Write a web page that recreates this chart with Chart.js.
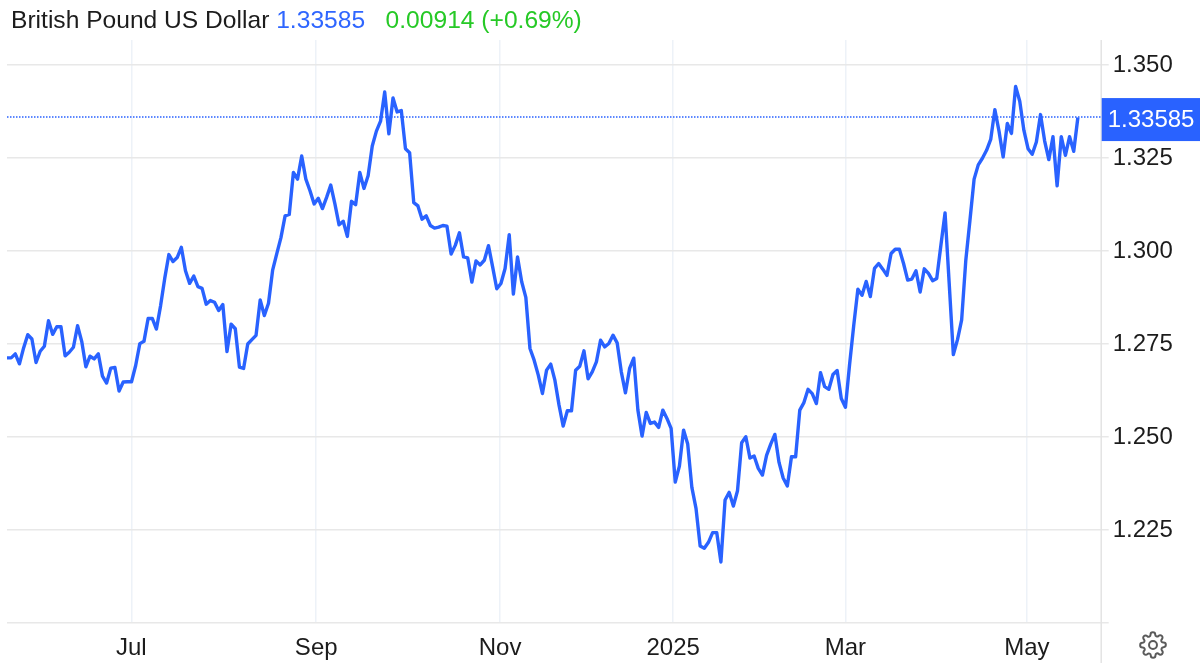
<!DOCTYPE html>
<html><head><meta charset="utf-8">
<style>
html,body{margin:0;padding:0;background:#fff;width:1200px;height:663px;overflow:hidden}
#wrap{position:relative;width:1200px;height:663px}
canvas{position:absolute;left:0;top:0}
#hdr{position:absolute;left:11px;top:6px;font:24.6px "Liberation Sans",Arial,sans-serif;color:#1c1c1c;white-space:pre}
#hdr .p{color:#2f66ff}#hdr .c{color:#26c926}
#gear{position:absolute;left:1139px;top:631px}
</style>
<script src="https://cdn.jsdelivr.net/npm/chart.js@4"></script>
</head><body><div id="wrap">
<canvas id="c" width="1200" height="663"></canvas>
<div id="hdr">British Pound US Dollar <span class="p">1.33585</span>   <span class="c">0.00914 (+0.69%)</span></div>
<svg id="gear" width="28" height="28" viewBox="0 0 24 24" fill="none" stroke="#5a5a5a" stroke-width="1.7" stroke-linejoin="round"><circle cx="12" cy="12" r="3.4"/><path d="M19.4 15a1.65 1.65 0 0 0 .33 1.82l.06.06a2 2 0 1 1-2.83 2.83l-.06-.06a1.65 1.65 0 0 0-2.8 1.17V21a2 2 0 1 1-4 0v-.09a1.65 1.65 0 0 0-2.8-1.17l-.06.06a2 2 0 1 1-2.83-2.83l.06-.06a1.65 1.65 0 0 0-1.17-2.8H3a2 2 0 1 1 0-4h.09a1.65 1.65 0 0 0 1.17-2.8l-.06-.06a2 2 0 1 1 2.83-2.83l.06.06a1.65 1.65 0 0 0 2.8-1.17V3a2 2 0 1 1 4 0v.09a1.65 1.65 0 0 0 2.8 1.17l.06-.06a2 2 0 1 1 2.83 2.83l-.06.06a1.65 1.65 0 0 0 1.17 2.8H21a2 2 0 1 1 0 4h-.09a1.65 1.65 0 0 0-1.51 1z"/></svg>
</div>
<script>
const prices = [
1.27126,1.27126,1.27233,1.26966,1.27393,1.27749,1.27634,1.27002,1.27304,1.27438,
1.28123,1.27758,1.27963,1.27963,1.2718,1.27278,1.27411,1.2799,1.27571,1.26886,
1.27171,1.27099,1.27233,1.26637,1.2645,1.2685,1.26868,1.26236,1.26476,1.26485,
1.26485,1.26921,1.27509,1.27571,1.28185,1.28185,1.27901,1.28524,1.29262,1.29903,
1.29716,1.29823,1.30099,1.29467,1.29129,1.29325,1.2904,1.28995,1.28568,1.28666,
1.28621,1.28399,1.28559,1.27295,1.28034,1.27909,1.26877,1.26841,1.275,1.27616,
1.27731,1.28684,1.28265,1.28595,1.29485,1.2993,1.30357,1.30944,1.3098,
1.32108,1.3193,1.32553,1.3193,1.31619,1.31263,1.31414,1.31138,1.31441,1.3177,
1.31263,1.30702,1.308,1.30391,1.31334,1.31245,1.32108,1.31681,1.32019,1.3282,
1.33221,1.33488,1.34271,1.3315,1.34111,1.33737,1.33773,1.32749,1.32642,1.31299,
1.3121,1.30854,1.30943,1.30684,1.30613,1.3064,1.30684,1.30667,1.29919,1.3015,
1.30489,1.29839,1.29812,1.29163,1.29732,1.29625,1.2975,1.30142,1.29572,1.28984,
1.29127,1.29527,1.30435,1.28842,1.29839,1.29171,1.28753,
1.27378,1.27064,1.26662,1.26169,1.26796,1.26957,1.26527,1.25856,1.25292,1.25704,
1.25704,1.26796,1.26903,1.27315,1.26563,1.26751,1.2702,1.27601,1.27422,1.27512,
1.27736,1.2753,1.26751,1.26187,1.26841,1.27118,1.25722,1.25024,1.25659,1.25364,
1.254,1.25257,1.25722,1.25498,1.2523,1.23789,1.24218,1.25185,1.24809,1.23646,
1.23082,1.2207,1.22008,1.22169,1.22428,1.22428,1.21641,1.23305,1.23511,1.23144,
1.23556,1.24845,1.25006,1.24433,1.24487,1.24156,1.23977,1.24505,1.24809,1.25069,
1.24317,1.23896,1.23681,1.24469,1.24469,1.25722,
1.25925,1.26281,1.26165,1.25898,1.26726,1.26352,1.26281,1.26681,1.26788,1.26032,
1.258,1.26948,1.27998,1.28969,1.28808,1.29182,1.28773,1.2953,1.29663,1.29511,
1.29342,1.2993,1.30045,1.30045,1.29663,1.29218,1.29244,1.29467,1.28897,1.2952,
1.29396,1.292,1.29262,1.30152,1.31024,1.29129,1.27215,1.27616,1.2815,1.2975,1.30826,
1.3193,1.32313,1.32491,1.32705,1.32998,1.33799,1.33221,1.32527,1.33426,1.33159,
1.34422,1.34022,1.33239,1.32749,1.32598,1.32927,1.33666,1.32954,1.32455,1.3307,
1.31752,1.3307,1.32571,1.3307,1.32678,1.33585];
const monthLabels = ['Jul','Sep','Nov','2025','Mar','May'];
const monthIndex = [29.95,74.5,118.8,160.5,202,245.7];
const yTicks = [1.2,1.225,1.25,1.275,1.3,1.325,1.35];
const lastPrice = 1.33585;
const xEnd = 263.5;
const yMin = 1.2, yMax = 1.3567;
const BLUE = '#2962ff';
const overlay = {
  id:'overlay',
  afterDatasetsDraw(ch){
    const a=ch.chartArea, y=ch.scales.y.getPixelForValue(lastPrice), g=ch.ctx;
    g.save();
    g.strokeStyle='#e3e3e3'; g.lineWidth=1.5;
    g.beginPath(); g.moveTo(a.right+0.5,a.top); g.lineTo(a.right+0.5,663); g.stroke();
    g.strokeStyle=BLUE; g.lineWidth=1.4; g.setLineDash([1.5,1.5]);
    g.beginPath(); g.moveTo(a.left,y-0.5); g.lineTo(a.right,y-0.5); g.stroke();
    g.setLineDash([]);
    g.fillStyle=BLUE; g.fillRect(a.right+1,y-19.5,99,43);
    g.fillStyle='#fff'; g.font='24px "Liberation Sans",Arial,sans-serif';
    g.textAlign='left'; g.textBaseline='middle';
    g.fillText(lastPrice.toFixed(5),a.right+7,y+3);
    g.restore();
  }
};
new Chart(document.getElementById('c'),{
  type:'line',
  data:{datasets:[{label:'British Pound US Dollar',data:prices.map((v,i)=>({x:i,y:v})),
    borderColor:BLUE,borderWidth:3.4,pointRadius:0,tension:0,borderJoinStyle:'round',fill:false}]},
  options:{
    responsive:false,animation:false,devicePixelRatio:1,
    layout:{padding:{left:7,top:40,right:0,bottom:0}},
    plugins:{legend:{display:false},tooltip:{enabled:false}},
    scales:{
      x:{type:'linear',min:0,max:xEnd,
        afterBuildTicks:s=>{s.ticks=monthIndex.map(value=>({value}));},
        afterFit:s=>{s.height=40;},
        grid:{color:'#edf2f8',lineWidth:1.5,tickLength:0,drawTicks:false},
        border:{display:false},
        ticks:{autoSkip:false,maxRotation:0,padding:11,color:'#1c1c1c',
          font:{family:'"Liberation Sans",Arial,sans-serif',size:24},
          callback:(v,i)=>monthLabels[i]}
      },
      y:{position:'right',min:yMin,max:yMax,
        afterBuildTicks:s=>{s.ticks=yTicks.map(value=>({value}));},
        afterFit:s=>{s.width=99.3;},
        grid:{color:'#e8e8e8',lineWidth:1.5,tickLength:8,drawTicks:true,tickColor:'#e8e8e8'},
        border:{display:false},
        ticks:{autoSkip:false,padding:4,color:'#1c1c1c',
          font:{family:'"Liberation Sans",Arial,sans-serif',size:24},
          callback:v=>v===1.2?'':v.toFixed(3)}
      }
    }
  },
  plugins:[overlay]
});
</script></body></html>
